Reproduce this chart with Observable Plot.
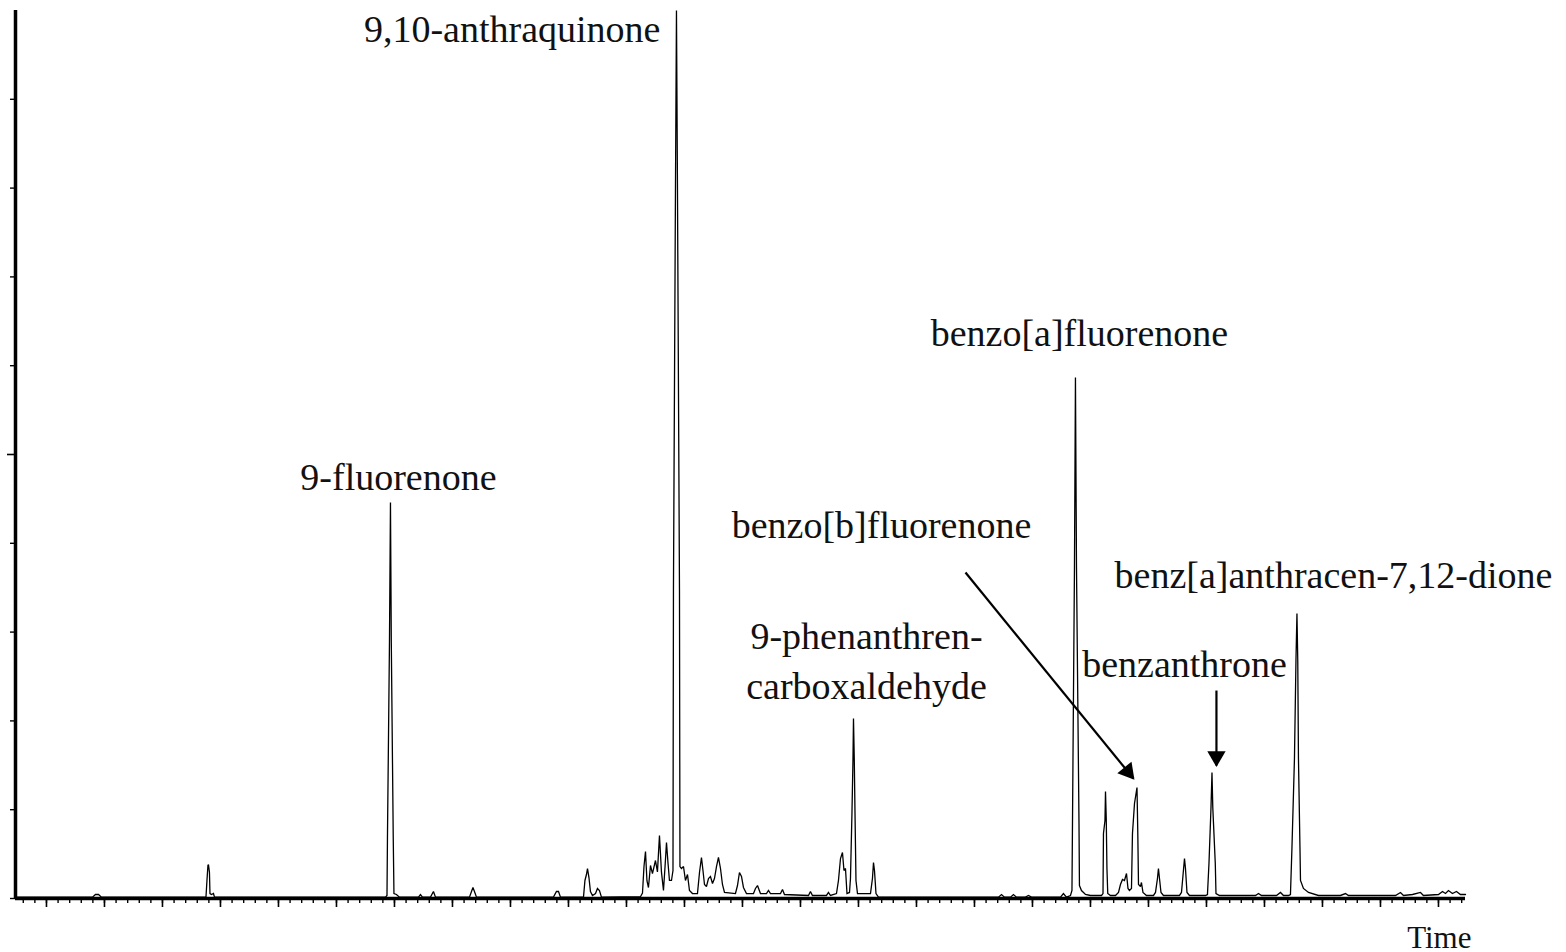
<!DOCTYPE html>
<html>
<head>
<meta charset="utf-8">
<script src="https://cdn.jsdelivr.net/npm/d3@7"></script>
<script src="https://cdn.jsdelivr.net/npm/@observablehq/plot@0.6"></script>
<style>
  html, body { margin: 0; padding: 0; background: #fff; }
  #chart { width: 1566px; height: 952px; }
</style>
</head>
<body>
<div id="chart"></div>
<script>
// Chromatogram trace: [retention time (min), relative signal (% of largest peak)]
const trace = [
  [3.483,0.15],
  [4.793,0.15],[4.845,0.45],[4.897,0.45],[4.948,0.15],
  [6.750,0.15],[6.767,2.03],[6.784,3.72],[6.793,3.83],[6.810,2.93],[6.819,0.56],[6.845,0.45],[6.879,0.56],[6.897,0.15],
  [9.845,0.15],[9.871,0.34],[9.879,6.76],[9.914,29.05],[9.931,44.59],[9.945,29.05],[9.979,6.76],[9.991,0.56],[10.034,0.45],[10.086,0.15],
  [10.414,0.15],[10.448,0.45],[10.483,0.15],[10.621,0.15],[10.672,0.79],[10.707,0.15],
  [11.293,0.15],[11.328,0.79],[11.353,1.24],[11.379,0.79],[11.414,0.15],
  [12.741,0.15],[12.793,0.79],[12.828,0.79],[12.862,0.15],
  [13.259,0.15],[13.284,2.03],[13.310,2.70],[13.328,3.38],[13.353,2.36],[13.379,0.79],[13.414,0.34],[13.466,0.56],[13.500,1.13],[13.534,0.90],[13.569,0.15],
  [14.241,0.2],[14.276,0.6],[14.302,3.6],[14.328,5.29],[14.353,2.0],[14.379,1.24],[14.414,3.72],[14.448,2.8],[14.500,4.28],[14.534,3.0],[14.569,7.09],[14.603,3.0],[14.638,0.90],[14.664,3.5],[14.690,6.31],[14.716,4.0],[14.741,2.03],[14.776,2.03],[14.802,3.15],
  [14.810,34.68],[14.845,80.29],[14.862,100],[14.879,80.29],[14.914,34.68],[14.922,3.6],[14.948,3.38],[14.983,3.60],[15.017,2.03],[15.052,2.70],[15.086,0.90],[15.138,0.56],
  [15.224,0.56],[15.259,2.93],[15.293,4.62],[15.319,3.15],[15.345,1.58],[15.379,1.35],[15.414,2.25],[15.448,2.48],[15.483,1.69],[15.517,2.25],[15.552,3.60],[15.586,4.62],[15.621,3.38],[15.655,1.58],[15.690,0.68],
  [15.879,0.56],[15.914,1.46],[15.948,2.93],[15.983,2.48],[16.017,1.24],[16.069,0.56],
  [16.190,0.56],[16.224,1.13],[16.259,1.46],[16.310,0.56],[16.414,0.56],[16.448,0.90],[16.483,0.56],[16.655,0.56],[16.690,1.01],[16.724,0.45],
  [17.138,0.34],[17.172,0.79],[17.207,0.34],[17.448,0.34],[17.483,0.68],[17.517,0.34],
  [17.621,0.56],[17.655,2.03],[17.690,4.50],[17.724,5.18],[17.750,3.15],[17.776,3.38],[17.802,0.56],[17.845,0.68],[17.862,2.25],[17.888,9.68],[17.905,15.54],[17.914,20.27],[17.928,15.54],[17.940,9.68],[17.957,2.03],[17.983,0.56],
  [18.207,0.56],[18.241,2.25],[18.259,4.05],[18.276,3.15],[18.302,0.56],[18.345,0.15],
  [20.414,0.15],[20.466,0.45],[20.517,0.15],[20.621,0.15],[20.672,0.45],[20.724,0.15],[20.879,0.15],[20.931,0.34],[20.983,0.15],[21.483,0.15],[21.534,0.56],[21.586,0.15],
  [21.655,0.34],[21.681,0.90],[21.690,8.56],[21.724,37.27],[21.741,58.67],[21.759,37.27],[21.802,8.56],[21.810,1.46],[21.845,0.90],[21.914,0.45],[22.000,0.34],
  [22.190,0.34],[22.216,0.56],[22.224,7.32],[22.250,8.78],[22.259,12.05],[22.272,9.01],[22.284,3.38],[22.298,0.56],[22.345,0.34],
  [22.431,0.34],[22.483,0.68],[22.517,1.58],[22.552,2.14],[22.586,2.03],[22.621,2.82],[22.647,1.13],[22.672,0.90],[22.707,1.13],
  [22.724,7.32],[22.759,10.70],[22.802,12.50],[22.816,7.32],[22.828,1.58],[22.862,1.35],[22.879,1.80],[22.905,0.68],[22.966,0.34],
  [23.086,0.34],[23.121,0.68],[23.155,2.25],[23.172,3.38],[23.190,2.25],[23.216,0.68],[23.259,0.34],
  [23.534,0.34],[23.569,0.68],[23.595,2.59],[23.621,4.50],[23.638,3.38],[23.664,0.68],[23.707,0.34],
  [23.983,0.34],[24.017,0.45],[24.043,3.94],[24.078,10.25],[24.095,14.19],[24.109,10.25],[24.152,3.94],[24.164,0.56],[24.224,0.34],
  [24.759,0.34],[24.845,0.34],[24.897,0.56],[24.948,0.34],[25.207,0.34],[25.276,0.68],[25.328,0.34],
  [25.414,0.34],[25.448,0.45],[25.474,5.74],[25.517,15.77],[25.543,26.80],[25.560,32.09],[25.574,26.80],[25.586,15.77],[25.612,5.74],[25.621,2.03],[25.672,1.13],[25.759,0.68],[25.931,0.34],
  [26.310,0.34],[26.397,0.56],[26.448,0.34],[26.655,0.34],[27.259,0.34],[27.345,0.68],[27.397,0.34],[27.552,0.45],[27.690,0.68],[27.741,0.34],[28.000,0.45],[28.069,0.79],[28.121,0.56],[28.172,0.90],[28.241,0.56],[28.310,0.79],[28.379,0.45],[28.466,0.45]
];

// Peak labels
const labelText   = ["9,10-anthraquinone", "9-fluorenone", "benzo[a]fluorenone", "benzo[b]fluorenone",
                     "benz[a]anthracen-7,12-dione", "9-phenanthren-", "carboxaldehyde", "benzanthrone"];
const labelTime   = [14.586, 10.069, 21.810, 18.397, 26.190, 18.138, 18.138, 23.621];
const labelSignal = [96.40, 46.05, 62.27, 40.65, 35.02, 28.15, 22.52, 24.89];

// Arrows pointing at small peaks (benzo[b]fluorenone, benzanthrone)
const arrowFromTime   = [19.845, 24.172];
const arrowFromSignal = [36.71, 23.42];
const arrowToTime     = [22.741, 24.172];
const arrowToSignal   = [13.51, 14.98];

// Axes
const timeDomain = [3.466, 28.466];
const signalDomain = [0, 100];
const majorTimeTicks = [4,5,6,7,8,9,10,11,12,13,14,15,16,17,18,19,20,21,22,23,24,25,26,27,28];
const minorTimeTicks = d3.range(3.6, 28.45, 0.2).map(d => +d.toFixed(1));
const signalTicks = [0,10,20,30,40,60,70,80,90];
const signalMidTick = [50];

const labels = labelText.map((t, i) => ({text: t, time: labelTime[i], signal: labelSignal[i]}));
const arrows = arrowFromTime.map((t, i) => ({x1: t, y1: arrowFromSignal[i], x2: arrowToTime[i], y2: arrowToSignal[i]}));
const font = "'Liberation Serif', 'Times New Roman', serif";

const chart = Plot.plot({
  width: 1566,
  height: 952,
  marginLeft: 15,
  marginRight: 101,
  marginTop: 10,
  marginBottom: 54,
  style: {background: "#fff", overflow: "visible"},
  x: {domain: timeDomain},
  y: {domain: signalDomain},
  marks: [
    Plot.axisX(minorTimeTicks, {tickSize: 5, strokeWidth: 1.4, tickFormat: () => "", label: null}),
    Plot.axisX(majorTimeTicks, {tickSize: 9, strokeWidth: 1.6, tickFormat: () => "", label: null}),
    Plot.axisY(signalTicks, {tickSize: 5, strokeWidth: 1.4, tickFormat: () => "", label: null}),
    Plot.axisY(signalMidTick, {tickSize: 8, strokeWidth: 1.6, tickFormat: () => "", label: null}),
    Plot.line(trace, {x: d => d[0], y: d => d[1], stroke: "#000", strokeWidth: 1.3, strokeLinejoin: "miter", strokeMiterlimit: 2}),
    Plot.ruleY([0], {stroke: "#000", strokeWidth: 3.5}),
    Plot.ruleX([timeDomain[0]], {y1: 0, y2: 100, stroke: "#000", strokeWidth: 3.5}),
    Plot.text(labels.filter(d => d.text === "9,10-anthraquinone"), {x: "time", y: "signal", text: "text", textAnchor: "end", lineAnchor: "bottom", fontSize: 38, fontFamily: font, fill: "#111"}),
    Plot.text(labels.filter(d => d.text !== "9,10-anthraquinone"), {x: "time", y: "signal", text: "text", textAnchor: "middle", lineAnchor: "bottom", fontSize: 38, fontFamily: font, fill: "#111"}),
    // arrow shafts
    Plot.link(arrows, {x1: "x1", y1: "y1", x2: "x2", y2: "y2", stroke: "#000", strokeWidth: 2.2}),
    // filled arrow heads, drawn at each arrow's tip and pulled back along its direction
    Plot.dot(arrows.slice(0, 1), {x: "x2", y: "y2", symbol: "triangle", r: 6.8, fill: "#000", stroke: "none", rotate: 140.8, dx: -5.7, dy: -7.0}),
    Plot.dot(arrows.slice(1, 2), {x: "x2", y: "y2", symbol: "triangle", r: 6.8, fill: "#000", stroke: "none", rotate: 180, dy: -9}),
    Plot.text(["Time"], {frameAnchor: "bottom-right", dx: 6, dy: 49, textAnchor: "end", lineAnchor: "bottom", fontSize: 31, fontFamily: font, fill: "#111"})
  ]
});
document.getElementById("chart").appendChild(chart);
</script>
</body>
</html>
